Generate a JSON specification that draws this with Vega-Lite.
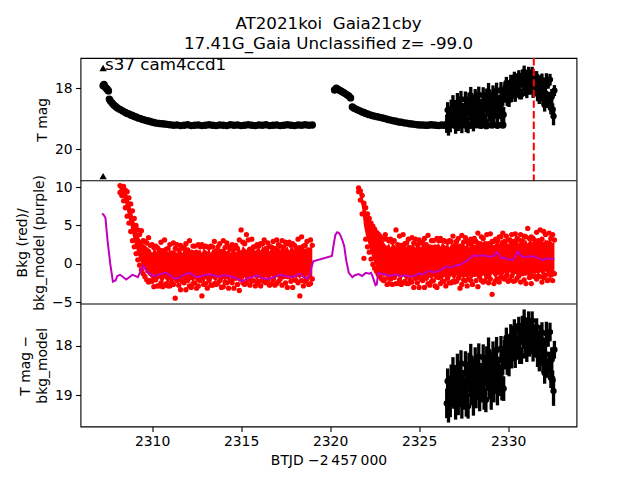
{
"$schema": "https://vega.github.io/schema/vega-lite/v6.json",
"width": 496, "height": 368.5,
"autosize": "none",
"padding": {"left": 80.5, "top": 58, "right": 63.5, "bottom": 53.5},
"background": "white",
"title": {"text": ["AT2021koi\u00a0 Gaia21cby", "17.41G_Gaia Unclassified z= -99.0"], "font": "DejaVu Sans", "fontSize": 16.7, "fontWeight": "normal", "color": "black", "anchor": "middle", "frame": "group", "baseline": "bottom", "offset": -13, "lineHeight": 20},
"config": {
 "view": {"stroke": "black", "strokeWidth": 1.1},
 "axis": {"labelFont": "DejaVu Sans", "labelFontSize": 13.9, "labelColor": "black", "tickColor": "black", "tickSize": 4.9, "tickWidth": 1.1, "labelPadding": 3.5, "titleFont": "DejaVu Sans", "titleFontSize": 13.9, "titleFontWeight": "normal", "titleColor": "black", "titlePadding": 5, "titleLineHeight": 16.7, "domain": false, "grid": false}
},
"datasets": {
 "top": [
  {"t":2307.25,"m":17.92,"e":0.05},{"t":2307.3,"m":17.88,"e":0.05},{"t":2307.35,"m":17.95,"e":0.05},{"t":2307.4,"m":17.99,"e":0.05},{"t":2307.45,"m":18.02,"e":0.05},{"t":2307.5,"m":18.05,"e":0.05},{"t":2307.55,"m":18.09,"e":0.05},{"t":2307.6,"m":18.36,"e":0.05},{"t":2307.65,"m":18.41,"e":0.05},{"t":2307.75,"m":18.49,"e":0.05},{"t":2307.85,"m":18.55,"e":0.05},{"t":2307.95,"m":18.6,"e":0.05},{"t":2308.05,"m":18.65,"e":0.05},{"t":2308.2,"m":18.7,"e":0.05},{"t":2308.35,"m":18.75,"e":0.05},{"t":2308.5,"m":18.8,"e":0.05},{"t":2308.6,"m":18.83,"e":0.05},{"t":2308.7,"m":18.85,"e":0.05},{"t":2308.8,"m":18.88,"e":0.05},{"t":2308.9,"m":18.9,"e":0.05},{"t":2309.0,"m":18.93,"e":0.05},{"t":2309.1,"m":18.95,"e":0.05},{"t":2309.22,"m":18.98,"e":0.05},{"t":2309.35,"m":19.0,"e":0.05},{"t":2309.47,"m":19.03,"e":0.05},{"t":2309.6,"m":19.05,"e":0.05},{"t":2309.72,"m":19.07,"e":0.05},{"t":2309.85,"m":19.09,"e":0.05},{"t":2309.97,"m":19.11,"e":0.04},{"t":2310.1,"m":19.13,"e":0.04},{"t":2310.25,"m":19.15,"e":0.04},{"t":2310.4,"m":19.16,"e":0.04},{"t":2310.55,"m":19.17,"e":0.04},{"t":2310.7,"m":19.18,"e":0.04},{"t":2310.85,"m":19.19,"e":0.04},{"t":2311.0,"m":19.2,"e":0.04},
  {"t":2311.2,"m":19.22,"e":0.04},{"t":2311.4,"m":19.21,"e":0.04},{"t":2311.6,"m":19.23,"e":0.04},{"t":2311.8,"m":19.22,"e":0.04},{"t":2312.0,"m":19.2,"e":0.04},{"t":2312.2,"m":19.23,"e":0.04},{"t":2312.4,"m":19.22,"e":0.04},{"t":2312.6,"m":19.21,"e":0.04},{"t":2312.8,"m":19.23,"e":0.04},{"t":2313.0,"m":19.22,"e":0.04},{"t":2313.2,"m":19.2,"e":0.04},{"t":2313.4,"m":19.22,"e":0.04},{"t":2313.6,"m":19.23,"e":0.04},{"t":2313.8,"m":19.21,"e":0.04},{"t":2314.0,"m":19.22,"e":0.04},{"t":2314.2,"m":19.23,"e":0.04},{"t":2314.4,"m":19.2,"e":0.04},{"t":2314.6,"m":19.22,"e":0.04},{"t":2314.8,"m":19.21,"e":0.04},{"t":2315.0,"m":19.23,"e":0.04},{"t":2315.2,"m":19.22,"e":0.04},{"t":2315.4,"m":19.2,"e":0.04},{"t":2315.6,"m":19.22,"e":0.04},{"t":2315.8,"m":19.23,"e":0.04},{"t":2316.0,"m":19.21,"e":0.04},{"t":2316.2,"m":19.22,"e":0.04},{"t":2316.4,"m":19.2,"e":0.04},{"t":2316.6,"m":19.23,"e":0.04},{"t":2316.8,"m":19.22,"e":0.04},{"t":2317.0,"m":19.21,"e":0.04},{"t":2317.2,"m":19.23,"e":0.04},{"t":2317.4,"m":19.22,"e":0.04},{"t":2317.6,"m":19.2,"e":0.04},{"t":2317.8,"m":19.22,"e":0.04},{"t":2318.0,"m":19.23,"e":0.04},{"t":2318.2,"m":19.21,"e":0.04},{"t":2318.4,"m":19.22,"e":0.04},{"t":2318.6,"m":19.2,"e":0.04},{"t":2318.8,"m":19.22,"e":0.04},{"t":2319.0,"m":19.21,"e":0.04},
  {"t":2320.25,"m":18.06,"e":0.05},{"t":2320.35,"m":18.0,"e":0.05},{"t":2320.45,"m":18.04,"e":0.05},{"t":2320.55,"m":18.08,"e":0.05},{"t":2320.65,"m":18.11,"e":0.05},{"t":2320.75,"m":18.14,"e":0.05},{"t":2320.85,"m":18.18,"e":0.05},{"t":2320.95,"m":18.22,"e":0.05},{"t":2321.05,"m":18.26,"e":0.05},{"t":2321.15,"m":18.32,"e":0.05},{"t":2321.25,"m":18.62,"e":0.05},{"t":2321.35,"m":18.66,"e":0.05},{"t":2321.5,"m":18.7,"e":0.05},{"t":2321.65,"m":18.74,"e":0.05},{"t":2321.8,"m":18.78,"e":0.05},{"t":2321.9,"m":18.8,"e":0.05},{"t":2322.0,"m":18.83,"e":0.05},{"t":2322.1,"m":18.85,"e":0.05},{"t":2322.2,"m":18.87,"e":0.05},{"t":2322.35,"m":18.9,"e":0.05},{"t":2322.5,"m":18.92,"e":0.05},{"t":2322.65,"m":18.94,"e":0.05},{"t":2322.8,"m":18.96,"e":0.05},{"t":2322.95,"m":18.98,"e":0.05},{"t":2323.1,"m":19.0,"e":0.04},{"t":2323.25,"m":19.03,"e":0.04},{"t":2323.4,"m":19.05,"e":0.04},{"t":2323.55,"m":19.07,"e":0.04},{"t":2323.7,"m":19.09,"e":0.04},{"t":2323.85,"m":19.11,"e":0.04},{"t":2324.0,"m":19.12,"e":0.04},{"t":2324.15,"m":19.14,"e":0.04},{"t":2324.3,"m":19.15,"e":0.04},{"t":2324.45,"m":19.17,"e":0.04},{"t":2324.6,"m":19.18,"e":0.04},{"t":2324.75,"m":19.19,"e":0.04},{"t":2324.9,"m":19.2,"e":0.04},{"t":2325.05,"m":19.21,"e":0.04},{"t":2325.2,"m":19.21,"e":0.04},{"t":2325.35,"m":19.22,"e":0.04},{"t":2325.5,"m":19.22,"e":0.04},{"t":2325.65,"m":19.2,"e":0.04},{"t":2325.8,"m":19.21,"e":0.04},{"t":2325.95,"m":19.22,"e":0.04},{"t":2326.1,"m":19.23,"e":0.04},{"t":2326.25,"m":19.21,"e":0.04},{"t":2326.4,"m":19.22,"e":0.04},{"t":2326.7,"m":19.21,"e":0.04},{"t":2327.0,"m":19.22,"e":0.04},{"t":2327.3,"m":19.23,"e":0.04},{"t":2327.6,"m":19.21,"e":0.04},{"t":2327.9,"m":19.22,"e":0.04},{"t":2328.2,"m":19.2,"e":0.04},{"t":2328.5,"m":19.22,"e":0.04},{"t":2328.8,"m":19.23,"e":0.04},{"t":2329.1,"m":19.21,"e":0.04},{"t":2329.4,"m":19.22,"e":0.04},{"t":2329.7,"m":19.21,"e":0.04}
 ],
 "noisy": [
  {"t":2326.55,"m":19.17,"e":0.30},{"t":2326.6,"m":18.72,"e":0.26},{"t":2326.65,"m":19.24,"e":0.32},{"t":2326.7,"m":18.88,"e":0.28},{"t":2326.75,"m":19.2,"e":0.25},{"t":2326.8,"m":18.69,"e":0.31},{"t":2326.85,"m":18.92,"e":0.27},{"t":2326.9,"m":18.52,"e":0.29},{"t":2326.95,"m":19.04,"e":0.24},
  {"t":2327.0,"m":18.69,"e":0.30},{"t":2327.05,"m":19.2,"e":0.30},{"t":2327.1,"m":18.81,"e":0.26},{"t":2327.15,"m":18.48,"e":0.32},{"t":2327.2,"m":19.13,"e":0.28},{"t":2327.25,"m":18.62,"e":0.25},{"t":2327.3,"m":18.93,"e":0.31},{"t":2327.35,"m":18.36,"e":0.27},{"t":2327.4,"m":19.19,"e":0.29},{"t":2327.45,"m":18.73,"e":0.24},{"t":2327.5,"m":19.0,"e":0.30},{"t":2327.55,"m":18.95,"e":0.30},{"t":2327.6,"m":18.37,"e":0.26},{"t":2327.65,"m":19.12,"e":0.32},{"t":2327.7,"m":18.66,"e":0.28},{"t":2327.75,"m":19.23,"e":0.25},{"t":2327.8,"m":18.45,"e":0.31},{"t":2327.85,"m":18.77,"e":0.27},{"t":2327.9,"m":18.25,"e":0.29},{"t":2327.95,"m":18.97,"e":0.24},
  {"t":2328.0,"m":18.56,"e":0.30},{"t":2328.05,"m":19.12,"e":0.30},{"t":2328.1,"m":18.68,"e":0.26},{"t":2328.15,"m":18.35,"e":0.32},{"t":2328.2,"m":18.99,"e":0.28},{"t":2328.25,"m":18.49,"e":0.25},{"t":2328.3,"m":18.79,"e":0.31},{"t":2328.35,"m":18.22,"e":0.27},{"t":2328.4,"m":19.04,"e":0.29},{"t":2328.45,"m":18.59,"e":0.24},{"t":2328.5,"m":18.85,"e":0.30},{"t":2328.55,"m":18.81,"e":0.30},{"t":2328.6,"m":18.23,"e":0.26},{"t":2328.65,"m":18.98,"e":0.32},{"t":2328.7,"m":18.52,"e":0.28},{"t":2328.75,"m":19.1,"e":0.25},{"t":2328.8,"m":18.32,"e":0.31},{"t":2328.85,"m":18.65,"e":0.27},{"t":2328.9,"m":18.12,"e":0.29},{"t":2328.95,"m":18.85,"e":0.24},
  {"t":2329.0,"m":18.44,"e":0.30},{"t":2329.05,"m":19.0,"e":0.30},{"t":2329.1,"m":18.55,"e":0.26},{"t":2329.15,"m":18.23,"e":0.32},{"t":2329.2,"m":18.87,"e":0.28},{"t":2329.25,"m":18.36,"e":0.25},{"t":2329.3,"m":18.66,"e":0.31},{"t":2329.35,"m":18.09,"e":0.27},{"t":2329.4,"m":18.92,"e":0.29},{"t":2329.45,"m":18.46,"e":0.24},{"t":2329.5,"m":18.72,"e":0.30},{"t":2329.55,"m":18.66,"e":0.30},{"t":2329.6,"m":18.06,"e":0.26},{"t":2329.65,"m":18.79,"e":0.32},{"t":2329.7,"m":18.31,"e":0.28},{"t":2329.75,"m":18.87,"e":0.25},
  {"t":2329.8,"m":18.11,"e":0.23},{"t":2329.85,"m":18.29,"e":0.19},{"t":2329.9,"m":17.84,"e":0.21},{"t":2329.95,"m":18.34,"e":0.25},{"t":2330.0,"m":18.0,"e":0.20},{"t":2330.05,"m":18.4,"e":0.22},{"t":2330.1,"m":18.06,"e":0.18},{"t":2330.15,"m":17.8,"e":0.24},{"t":2330.2,"m":18.26,"e":0.20},{"t":2330.25,"m":17.87,"e":0.17},{"t":2330.3,"m":18.08,"e":0.23},{"t":2330.35,"m":17.65,"e":0.19},{"t":2330.4,"m":18.24,"e":0.21},{"t":2330.45,"m":17.89,"e":0.25},{"t":2330.5,"m":18.07,"e":0.20},{"t":2330.55,"m":18.03,"e":0.22},{"t":2330.6,"m":17.59,"e":0.18},{"t":2330.65,"m":18.13,"e":0.24},{"t":2330.7,"m":17.78,"e":0.20},{"t":2330.75,"m":18.2,"e":0.17},{"t":2330.8,"m":17.62,"e":0.23},{"t":2330.85,"m":17.86,"e":0.19},{"t":2330.9,"m":17.47,"e":0.21},{"t":2330.95,"m":18.01,"e":0.25},
  {"t":2331.0,"m":17.7,"e":0.20},{"t":2331.05,"m":18.11,"e":0.22},{"t":2331.1,"m":17.79,"e":0.18},{"t":2331.15,"m":17.54,"e":0.24},{"t":2331.2,"m":18.02,"e":0.20},{"t":2331.25,"m":17.64,"e":0.17},{"t":2331.3,"m":17.88,"e":0.23},{"t":2331.35,"m":17.49,"e":0.19},{"t":2331.4,"m":18.11,"e":0.21},{"t":2331.45,"m":17.8,"e":0.25},{"t":2331.5,"m":18.01,"e":0.20},{"t":2331.55,"m":18.01,"e":0.22},{"t":2331.6,"m":17.62,"e":0.18},{"t":2331.65,"m":18.19,"e":0.24},{"t":2331.7,"m":17.89,"e":0.20},{"t":2331.75,"m":18.35,"e":0.17},{"t":2331.8,"m":17.81,"e":0.23},{"t":2331.85,"m":18.08,"e":0.19},{"t":2331.9,"m":17.73,"e":0.21},{"t":2331.95,"m":18.3,"e":0.25},
  {"t":2332.0,"m":18.03,"e":0.20},{"t":2332.05,"m":18.55,"e":0.22},{"t":2332.1,"m":18.17,"e":0.18},{"t":2332.15,"m":17.75,"e":0.24},{"t":2332.2,"m":18.45,"e":0.20},{"t":2332.25,"m":17.85,"e":0.17},{"t":2332.3,"m":18.35,"e":0.23},{"t":2332.35,"m":17.72,"e":0.19},{"t":2332.4,"m":18.65,"e":0.21},{"t":2332.45,"m":18.28,"e":0.25},{"t":2332.5,"m":18.7,"e":0.20},{"t":2332.55,"m":18.92,"e":0.30},{"t":2332.6,"m":18.08,"e":0.18}
 ],
 "tri": [{"t":2307.25,"m":17.34},{"t":2307.25,"m":20.89}],
 "model": [
  {"t":2307.2,"v":6.58},{"t":2307.3,"v":6.3},{"t":2307.38,"v":6.0},{"t":2307.5,"v":3.0},{"t":2307.65,"v":0.0},{"t":2307.8,"v":-2.33},{"t":2307.95,"v":-2.2},{"t":2308.05,"v":-1.6},{"t":2308.2,"v":-1.45},{"t":2308.35,"v":-1.7},{"t":2308.55,"v":-2.07},{"t":2308.7,"v":-1.8},{"t":2308.9,"v":-1.45},{"t":2309.05,"v":-1.6},{"t":2309.2,"v":-1.75},{"t":2309.35,"v":-1.0},{"t":2309.5,"v":-0.3},{"t":2309.6,"v":-0.6},{"t":2309.7,"v":-1.1},{"t":2309.85,"v":-1.3},{"t":2310.05,"v":-1.6},{"t":2310.3,"v":-1.5},{"t":2310.55,"v":-1.3},{"t":2310.8,"v":-1.2},{"t":2311.05,"v":-1.6},{"t":2311.35,"v":-2.0},{"t":2311.6,"v":-1.7},{"t":2311.85,"v":-1.4},{"t":2312.1,"v":-1.2},{"t":2312.3,"v":-1.5},{"t":2312.5,"v":-1.75},{"t":2312.8,"v":-1.6},{"t":2313.1,"v":-1.4},{"t":2313.4,"v":-1.45},{"t":2313.7,"v":-1.7},{"t":2314.0,"v":-1.5},{"t":2314.35,"v":-1.6},{"t":2314.7,"v":-1.9},{"t":2315.1,"v":-2.3},{"t":2315.35,"v":-1.9},{"t":2315.6,"v":-1.75},{"t":2315.9,"v":-1.5},{"t":2316.1,"v":-1.8},{"t":2316.4,"v":-2.0},{"t":2316.7,"v":-1.9},{"t":2317.0,"v":-1.6},{"t":2317.2,"v":-1.45},{"t":2317.5,"v":-1.6},{"t":2317.9,"v":-1.75},{"t":2318.1,"v":-1.5},{"t":2318.3,"v":-1.3},{"t":2318.5,"v":-1.75},{"t":2318.7,"v":-1.9},{"t":2318.85,"v":-1.6},{"t":2318.95,"v":-0.5},{"t":2319.05,"v":0.3},
  {"t":2320.1,"v":1.0},{"t":2320.2,"v":2.5},{"t":2320.3,"v":3.8},{"t":2320.4,"v":4.1},{"t":2320.5,"v":4.0},{"t":2320.6,"v":3.6},{"t":2320.7,"v":3.0},{"t":2320.8,"v":2.2},{"t":2320.9,"v":0.5},{"t":2321.05,"v":-1.2},{"t":2321.25,"v":-1.75},{"t":2321.4,"v":-1.5},{"t":2321.6,"v":-1.35},{"t":2321.8,"v":-1.6},{"t":2322.0,"v":-1.2},{"t":2322.2,"v":-1.3},{"t":2322.3,"v":-1.2},{"t":2322.4,"v":-1.75},{"t":2322.55,"v":-2.8},{"t":2322.62,"v":-2.7},{"t":2322.7,"v":-1.2},{"t":2322.9,"v":-1.3},{"t":2323.1,"v":-1.4},{"t":2323.4,"v":-1.6},{"t":2323.7,"v":-1.4},{"t":2324.0,"v":-1.6},{"t":2324.25,"v":-1.5},{"t":2324.5,"v":-1.7},{"t":2324.8,"v":-1.5},{"t":2325.0,"v":-1.3},{"t":2325.2,"v":-1.4},{"t":2325.4,"v":-1.1},{"t":2325.55,"v":-0.95},{"t":2325.8,"v":-1.1},{"t":2326.1,"v":-0.95},{"t":2326.35,"v":-0.6},{"t":2326.55,"v":-0.35},{"t":2326.8,"v":-0.5},{"t":2327.05,"v":-0.2},{"t":2327.3,"v":-0.15},{"t":2327.55,"v":0.2},{"t":2327.8,"v":0.6},{"t":2328.05,"v":1.1},{"t":2328.3,"v":1.0},{"t":2328.6,"v":1.1},{"t":2328.9,"v":0.9},{"t":2329.2,"v":1.0},{"t":2329.35,"v":1.5},{"t":2329.5,"v":1.2},{"t":2329.6,"v":0.7},{"t":2329.8,"v":0.8},{"t":2330.05,"v":0.5},{"t":2330.3,"v":0.5},{"t":2330.45,"v":1.2},{"t":2330.55,"v":1.6},{"t":2330.7,"v":1.1},{"t":2330.8,"v":0.9},{"t":2331.1,"v":0.9},{"t":2331.4,"v":1.0},{"t":2331.7,"v":0.7},{"t":2331.95,"v":0.5},{"t":2332.2,"v":0.7},{"t":2332.5,"v":0.6},{"t":2332.6,"v":0.7}
 ],
 "red": [
  {"s":1,"t":2308.2,"lo":9.4,"hi":10.1,"b1":10.2,"b2":9.3},{"s":1,"t":2308.3,"lo":9.1,"hi":10.2,"b1":9.9,"b2":8.9},{"s":1,"t":2308.4,"lo":8.6,"hi":10.0,"b1":10.1,"b2":8.2},{"s":1,"t":2308.5,"lo":7.8,"hi":9.8,"b1":9.6,"b2":7.3},{"s":1,"t":2308.6,"lo":6.8,"hi":9.2,"b1":9.4,"b2":6.2},{"s":1,"t":2308.7,"lo":5.8,"hi":8.3,"b1":8.6,"b2":5.3},{"s":1,"t":2308.8,"lo":4.8,"hi":7.4,"b1":7.8,"b2":4.2},{"s":1,"t":2308.9,"lo":3.8,"hi":6.5,"b1":6.9,"b2":3.0},{"s":1,"t":2309.0,"lo":2.8,"hi":5.6,"b1":5.9,"b2":2.2},{"s":1,"t":2309.1,"lo":2.0,"hi":4.7,"b1":5.0,"b2":1.3},
  {"s":1,"t":2309.2,"lo":1.2,"hi":3.9,"b1":4.4,"b2":0.5},{"s":1,"t":2309.3,"lo":0.5,"hi":3.3,"b1":3.8,"b2":-0.2},{"s":1,"t":2309.4,"lo":0.0,"hi":2.9,"b1":4.3,"b2":-0.8},{"s":1,"t":2309.5,"lo":-0.5,"hi":2.6,"b1":3.0,"b2":-1.3},{"s":1,"t":2309.6,"lo":-0.9,"hi":2.4,"b1":2.9,"b2":-1.7},{"s":1,"t":2309.7,"lo":-1.2,"hi":2.2,"b1":2.7,"b2":-2.1},{"s":1,"t":2309.8,"lo":-1.5,"hi":2.0,"b1":3.4,"b2":-2.4},{"s":1,"t":2309.9,"lo":-1.7,"hi":1.9,"b1":2.4,"b2":-2.2},{"s":1,"t":2310.0,"lo":-2.0,"hi":1.4,"b1":2.5,"b2":-2.3},{"s":1,"t":2310.1,"lo":-2.2,"hi":1.9,"b1":2.1,"b2":-3.0},
  {"s":1,"t":2310.2,"lo":-2.0,"hi":1.8,"b1":2.3,"b2":-2.1},{"s":1,"t":2310.3,"lo":-2.3,"hi":1.5,"b1":2.1,"b2":-2.9},{"s":1,"t":2310.4,"lo":-1.9,"hi":1.7,"b1":1.8,"b2":-2.9},{"s":1,"t":2310.5,"lo":-2.3,"hi":1.9,"b1":2.8,"b2":-2.5},{"s":1,"t":2310.6,"lo":-2.5,"hi":1.4,"b1":1.7,"b2":-3.0},{"s":1,"t":2310.7,"lo":-1.9,"hi":2.0,"b1":3.1,"b2":-2.8},{"s":1,"t":2310.8,"lo":-2.2,"hi":1.7,"b1":1.9,"b2":-2.6},{"s":1,"t":2310.9,"lo":-2.6,"hi":1.5,"b1":2.0,"b2":-2.9},{"s":1,"t":2311.0,"lo":-2.1,"hi":1.9,"b1":2.5,"b2":-2.9},{"s":1,"t":2311.1,"lo":-2.3,"hi":1.3,"b1":1.4,"b2":-2.4},
  {"s":1,"t":2311.2,"lo":-2.1,"hi":1.8,"b1":2.7,"b2":-2.7},{"s":1,"t":2311.3,"lo":-2.4,"hi":1.7,"b1":2.0,"b2":-4.5},{"s":1,"t":2311.4,"lo":-2.0,"hi":1.4,"b1":2.5,"b2":-2.2},{"s":1,"t":2311.5,"lo":-2.3,"hi":1.6,"b1":1.8,"b2":-2.8},{"s":1,"t":2311.6,"lo":-2.5,"hi":1.9,"b1":2.4,"b2":-3.4},{"s":1,"t":2311.7,"lo":-1.9,"hi":1.4,"b1":2.0,"b2":-2.3},{"s":1,"t":2311.8,"lo":-2.2,"hi":2.0,"b1":2.1,"b2":-2.5},{"s":1,"t":2311.9,"lo":-2.6,"hi":1.7,"b1":2.6,"b2":-3.4},{"s":1,"t":2312.0,"lo":-2.1,"hi":1.5,"b1":1.8,"b2":-2.2},{"s":1,"t":2312.1,"lo":-2.3,"hi":1.9,"b1":3.0,"b2":-2.9},
  {"s":1,"t":2312.2,"lo":-2.1,"hi":1.3,"b1":1.5,"b2":-3.1},{"s":1,"t":2312.3,"lo":-2.4,"hi":1.8,"b1":2.3,"b2":-2.6},{"s":1,"t":2312.4,"lo":-2.0,"hi":1.7,"b1":2.3,"b2":-2.5},{"s":1,"t":2312.5,"lo":-2.3,"hi":1.4,"b1":1.5,"b2":-3.2},{"s":1,"t":2312.6,"lo":-2.5,"hi":1.6,"b1":2.5,"b2":-2.9},{"s":1,"t":2312.7,"lo":-1.9,"hi":1.9,"b1":2.2,"b2":-2.2},{"s":1,"t":2312.8,"lo":-2.2,"hi":1.4,"b1":2.5,"b2":-4.2},{"s":1,"t":2312.9,"lo":-2.6,"hi":2.0,"b1":2.2,"b2":-2.7},{"s":1,"t":2313.0,"lo":-2.0,"hi":1.8,"b1":2.3,"b2":-2.6},{"s":1,"t":2313.1,"lo":-2.2,"hi":1.6,"b1":2.2,"b2":-3.2},
  {"s":1,"t":2313.2,"lo":-2.0,"hi":2.0,"b1":2.1,"b2":-2.2},{"s":1,"t":2313.3,"lo":-2.3,"hi":1.4,"b1":2.3,"b2":-2.8},{"s":1,"t":2313.4,"lo":-1.9,"hi":1.9,"b1":2.2,"b2":-2.8},{"s":1,"t":2313.5,"lo":-2.2,"hi":1.8,"b1":2.9,"b2":-2.6},{"s":1,"t":2313.6,"lo":-2.4,"hi":1.5,"b1":1.7,"b2":-2.7},{"s":1,"t":2313.7,"lo":-1.8,"hi":1.7,"b1":2.2,"b2":-2.6},{"s":1,"t":2313.8,"lo":-2.1,"hi":2.0,"b1":2.6,"b2":-2.2},{"s":1,"t":2313.9,"lo":-2.5,"hi":1.5,"b1":1.6,"b2":-3.1},{"s":1,"t":2314.0,"lo":-2.0,"hi":2.1,"b1":3.0,"b2":-3.0},{"s":1,"t":2314.1,"lo":-2.2,"hi":1.8,"b1":2.1,"b2":-2.4},
  {"s":1,"t":2314.2,"lo":-2.0,"hi":1.6,"b1":2.7,"b2":-2.5},{"s":1,"t":2314.3,"lo":-2.3,"hi":2.0,"b1":2.2,"b2":-3.2},{"s":1,"t":2314.4,"lo":-1.9,"hi":1.4,"b1":1.9,"b2":-2.3},{"s":1,"t":2314.5,"lo":-2.2,"hi":1.9,"b1":2.5,"b2":-2.5},{"s":1,"t":2314.6,"lo":-2.4,"hi":1.8,"b1":1.9,"b2":-3.2},{"s":1,"t":2314.7,"lo":-1.8,"hi":1.5,"b1":2.4,"b2":-1.9},{"s":1,"t":2314.8,"lo":-2.1,"hi":1.7,"b1":2.0,"b2":-2.7},{"s":1,"t":2314.9,"lo":-2.5,"hi":2.0,"b1":3.1,"b2":-3.5},{"s":1,"t":2315.0,"lo":-1.8,"hi":1.7,"b1":4.4,"b2":-2.0},{"s":1,"t":2315.1,"lo":-2.0,"hi":2.3,"b1":2.8,"b2":-2.5},
  {"s":1,"t":2315.2,"lo":-1.8,"hi":2.0,"b1":2.6,"b2":-2.7},{"s":1,"t":2315.3,"lo":-2.1,"hi":1.8,"b1":3.8,"b2":-2.5},{"s":1,"t":2315.4,"lo":-1.7,"hi":2.2,"b1":3.1,"b2":-2.0},{"s":1,"t":2315.5,"lo":-2.0,"hi":1.6,"b1":1.9,"b2":-2.8},{"s":1,"t":2315.6,"lo":-2.2,"hi":2.1,"b1":3.2,"b2":-2.3},{"s":1,"t":2315.7,"lo":-1.6,"hi":2.0,"b1":2.2,"b2":-2.2},{"s":1,"t":2315.8,"lo":-1.9,"hi":1.7,"b1":2.2,"b2":-2.9},{"s":1,"t":2315.9,"lo":-2.3,"hi":1.9,"b1":2.5,"b2":-2.5},{"s":1,"t":2316.0,"lo":-1.8,"hi":2.2,"b1":2.3,"b2":-2.3},{"s":1,"t":2316.1,"lo":-2.0,"hi":1.7,"b1":2.6,"b2":-2.9},
  {"s":1,"t":2316.2,"lo":-1.8,"hi":2.3,"b1":2.6,"b2":-2.2},{"s":1,"t":2316.3,"lo":-2.1,"hi":2.0,"b1":3.1,"b2":-2.4},{"s":1,"t":2316.4,"lo":-1.7,"hi":1.8,"b1":2.0,"b2":-2.5},{"s":1,"t":2316.5,"lo":-2.0,"hi":2.2,"b1":2.7,"b2":-2.1},{"s":1,"t":2316.6,"lo":-2.2,"hi":1.6,"b1":2.2,"b2":-2.8},{"s":1,"t":2316.7,"lo":-1.6,"hi":2.1,"b1":2.2,"b2":-2.6},{"s":1,"t":2316.8,"lo":-1.9,"hi":2.0,"b1":2.9,"b2":-2.1},{"s":1,"t":2316.9,"lo":-2.3,"hi":1.7,"b1":2.0,"b2":-2.8},{"s":1,"t":2317.0,"lo":-1.7,"hi":2.0,"b1":3.1,"b2":-2.6},{"s":1,"t":2317.1,"lo":-1.9,"hi":2.3,"b1":2.5,"b2":-2.3},
  {"s":1,"t":2317.2,"lo":-1.7,"hi":1.8,"b1":2.3,"b2":-2.0},{"s":1,"t":2317.3,"lo":-2.0,"hi":2.4,"b1":3.0,"b2":-2.8},{"s":1,"t":2317.4,"lo":-1.6,"hi":2.1,"b1":2.2,"b2":-1.7},{"s":1,"t":2317.5,"lo":-1.9,"hi":1.9,"b1":2.8,"b2":-2.5},{"s":1,"t":2317.6,"lo":-2.1,"hi":2.3,"b1":2.6,"b2":-3.1},{"s":1,"t":2317.7,"lo":-1.5,"hi":1.7,"b1":2.8,"b2":-1.7},{"s":1,"t":2317.8,"lo":-1.8,"hi":2.2,"b1":2.4,"b2":-2.3},{"s":1,"t":2317.9,"lo":-2.2,"hi":2.1,"b1":2.6,"b2":-3.1},{"s":1,"t":2318.0,"lo":-1.7,"hi":1.8,"b1":2.4,"b2":-2.1},{"s":1,"t":2318.1,"lo":-1.9,"hi":2.0,"b1":2.1,"b2":-2.2},
  {"s":1,"t":2318.2,"lo":-1.7,"hi":2.3,"b1":3.2,"b2":-2.5},{"s":1,"t":2318.3,"lo":-2.0,"hi":1.8,"b1":2.1,"b2":-4.2},{"s":1,"t":2318.4,"lo":-1.6,"hi":2.4,"b1":3.5,"b2":-2.2},{"s":1,"t":2318.5,"lo":-1.9,"hi":2.1,"b1":2.3,"b2":-2.9},{"s":1,"t":2318.6,"lo":-2.1,"hi":1.9,"b1":2.4,"b2":-2.3},{"s":1,"t":2318.7,"lo":-1.5,"hi":2.3,"b1":2.9,"b2":-2.0},{"s":1,"t":2318.8,"lo":-1.8,"hi":1.7,"b1":1.8,"b2":-2.7},{"s":1,"t":2318.9,"lo":-2.2,"hi":2.2,"b1":3.1,"b2":-2.6},{"s":1,"t":2319.0,"lo":-1.7,"hi":2.1,"b1":2.4,"b2":-2.0},
  {"s":2,"t":2321.6,"lo":9.5,"hi":10.0,"b1":9.9,"b2":9.4},{"s":2,"t":2321.7,"lo":8.6,"hi":9.6,"b1":9.5,"b2":8.3},{"s":2,"t":2321.8,"lo":7.2,"hi":9.2,"b1":8.9,"b2":6.5},{"s":2,"t":2321.9,"lo":5.0,"hi":7.8,"b1":7.9,"b2":0.7},{"s":2,"t":2322.0,"lo":3.8,"hi":7.0,"b1":7.3,"b2":3.2},{"s":2,"t":2322.1,"lo":3.0,"hi":6.2,"b1":6.5,"b2":2.2},{"s":2,"t":2322.2,"lo":2.2,"hi":5.6,"b1":5.9,"b2":1.5},{"s":2,"t":2322.3,"lo":1.4,"hi":5.0,"b1":5.3,"b2":0.6},{"s":2,"t":2322.4,"lo":0.6,"hi":4.5,"b1":4.9,"b2":-0.1},{"s":2,"t":2322.5,"lo":0.0,"hi":4.1,"b1":4.5,"b2":-0.6},
  {"s":2,"t":2322.6,"lo":-0.5,"hi":3.8,"b1":4.1,"b2":-1.0},{"s":2,"t":2322.7,"lo":-0.9,"hi":3.5,"b1":3.9,"b2":-1.4},{"s":2,"t":2322.8,"lo":-1.2,"hi":3.2,"b1":3.6,"b2":-1.7},{"s":2,"t":2322.9,"lo":-1.5,"hi":3.0,"b1":3.3,"b2":-2.0},{"s":2,"t":2323.0,"lo":-1.7,"hi":2.9,"b1":3.2,"b2":-2.2},{"s":2,"t":2323.1,"lo":-1.5,"hi":2.5,"b1":3.8,"b2":-2.0},{"s":2,"t":2323.2,"lo":-1.8,"hi":2.3,"b1":3.2,"b2":-2.7},{"s":2,"t":2323.3,"lo":-2.2,"hi":2.7,"b1":3.0,"b2":-2.6},{"s":2,"t":2323.4,"lo":-1.7,"hi":2.1,"b1":3.2,"b2":-2.0},{"s":2,"t":2323.5,"lo":-1.9,"hi":2.6,"b1":2.8,"b2":-2.7},
  {"s":2,"t":2323.6,"lo":-1.7,"hi":2.5,"b1":3.0,"b2":-1.8},{"s":2,"t":2323.7,"lo":-2.0,"hi":2.2,"b1":4.4,"b2":-2.6},{"s":2,"t":2323.8,"lo":-1.6,"hi":2.4,"b1":2.5,"b2":-2.6},{"s":2,"t":2323.9,"lo":-1.9,"hi":2.7,"b1":3.6,"b2":-2.1},{"s":2,"t":2324.0,"lo":-2.2,"hi":2.1,"b1":2.4,"b2":-2.7},{"s":2,"t":2324.1,"lo":-1.6,"hi":2.7,"b1":3.8,"b2":-2.5},{"s":2,"t":2324.2,"lo":-1.9,"hi":2.4,"b1":2.6,"b2":-2.3},{"s":2,"t":2324.3,"lo":-2.3,"hi":2.2,"b1":2.7,"b2":-2.6},{"s":2,"t":2324.4,"lo":-1.8,"hi":2.6,"b1":3.2,"b2":-2.6},{"s":2,"t":2324.5,"lo":-2.0,"hi":2.0,"b1":2.1,"b2":-2.1},
  {"s":2,"t":2324.6,"lo":-1.8,"hi":2.5,"b1":3.4,"b2":-2.4},{"s":2,"t":2324.7,"lo":-2.1,"hi":2.4,"b1":2.7,"b2":-3.1},{"s":2,"t":2324.8,"lo":-1.7,"hi":2.1,"b1":3.2,"b2":-1.9},{"s":2,"t":2324.9,"lo":-2.0,"hi":2.3,"b1":2.5,"b2":-2.5},{"s":2,"t":2325.0,"lo":-2.2,"hi":2.6,"b1":3.1,"b2":-3.1},{"s":2,"t":2325.1,"lo":-1.6,"hi":2.1,"b1":2.7,"b2":-2.0},{"s":2,"t":2325.2,"lo":-1.9,"hi":2.7,"b1":2.8,"b2":-2.2},{"s":2,"t":2325.3,"lo":-2.3,"hi":2.4,"b1":3.3,"b2":-3.1},{"s":2,"t":2325.4,"lo":-1.8,"hi":2.2,"b1":2.5,"b2":-1.9},{"s":2,"t":2325.5,"lo":-2.0,"hi":2.6,"b1":3.7,"b2":-2.6},
  {"s":2,"t":2325.6,"lo":-1.8,"hi":2.0,"b1":2.2,"b2":-2.8},{"s":2,"t":2325.7,"lo":-2.1,"hi":2.5,"b1":3.0,"b2":-2.3},{"s":2,"t":2325.8,"lo":-1.7,"hi":2.4,"b1":3.0,"b2":-2.2},{"s":2,"t":2325.9,"lo":-2.0,"hi":2.1,"b1":2.2,"b2":-2.9},{"s":2,"t":2326.0,"lo":-2.1,"hi":2.4,"b1":3.3,"b2":-3.1},{"s":2,"t":2326.1,"lo":-1.5,"hi":2.7,"b1":3.0,"b2":-1.8},{"s":2,"t":2326.2,"lo":-1.8,"hi":2.2,"b1":3.3,"b2":-2.6},{"s":2,"t":2326.3,"lo":-2.2,"hi":2.8,"b1":3.0,"b2":-2.3},{"s":2,"t":2326.4,"lo":-1.7,"hi":2.5,"b1":3.0,"b2":-2.3},{"s":2,"t":2326.5,"lo":-1.9,"hi":2.3,"b1":2.9,"b2":-2.9},
  {"s":2,"t":2326.6,"lo":-1.7,"hi":2.7,"b1":2.8,"b2":-1.9},{"s":2,"t":2326.7,"lo":-2.0,"hi":2.1,"b1":3.0,"b2":-2.5},{"s":2,"t":2326.8,"lo":-1.6,"hi":2.6,"b1":2.9,"b2":-2.5},{"s":2,"t":2326.9,"lo":-1.9,"hi":2.5,"b1":3.6,"b2":-2.3},{"s":2,"t":2327.0,"lo":-2.1,"hi":2.2,"b1":2.4,"b2":-2.4},{"s":2,"t":2327.1,"lo":-1.5,"hi":2.4,"b1":2.9,"b2":-2.3},{"s":2,"t":2327.2,"lo":-1.8,"hi":2.7,"b1":3.3,"b2":-1.9},{"s":2,"t":2327.3,"lo":-2.2,"hi":2.2,"b1":2.3,"b2":-3.2},{"s":2,"t":2327.4,"lo":-1.7,"hi":2.8,"b1":3.7,"b2":-2.7},{"s":2,"t":2327.5,"lo":-1.9,"hi":2.5,"b1":2.8,"b2":-2.1},
  {"s":2,"t":2327.6,"lo":-1.7,"hi":2.3,"b1":3.4,"b2":-2.2},{"s":2,"t":2327.7,"lo":-2.0,"hi":2.7,"b1":2.9,"b2":-2.9},{"s":2,"t":2327.8,"lo":-1.6,"hi":2.1,"b1":2.6,"b2":-2.0},{"s":2,"t":2327.9,"lo":-1.9,"hi":2.6,"b1":3.2,"b2":-2.2},{"s":2,"t":2328.0,"lo":-1.9,"hi":2.7,"b1":2.8,"b2":-2.7},{"s":2,"t":2328.1,"lo":-1.3,"hi":2.4,"b1":3.3,"b2":-1.4},{"s":2,"t":2328.2,"lo":-1.6,"hi":2.6,"b1":2.9,"b2":-2.2},{"s":2,"t":2328.3,"lo":-2.0,"hi":2.9,"b1":4.0,"b2":-3.0},{"s":2,"t":2328.4,"lo":-1.5,"hi":2.4,"b1":2.6,"b2":-1.7},{"s":2,"t":2328.5,"lo":-1.7,"hi":3.0,"b1":3.5,"b2":-2.2},
  {"s":2,"t":2328.6,"lo":-1.5,"hi":2.7,"b1":3.3,"b2":-2.4},{"s":2,"t":2328.7,"lo":-1.8,"hi":2.5,"b1":2.6,"b2":-2.2},{"s":2,"t":2328.8,"lo":-1.4,"hi":2.9,"b1":3.8,"b2":-1.7},{"s":2,"t":2328.9,"lo":-1.7,"hi":2.3,"b1":2.6,"b2":-2.5},{"s":2,"t":2329.0,"lo":-1.9,"hi":2.8,"b1":3.9,"b2":-2.0},{"s":2,"t":2329.1,"lo":-1.3,"hi":2.7,"b1":2.9,"b2":-4.0},{"s":2,"t":2329.2,"lo":-1.6,"hi":2.4,"b1":2.9,"b2":-2.6},{"s":2,"t":2329.3,"lo":-2.0,"hi":2.6,"b1":3.2,"b2":-2.2},{"s":2,"t":2329.4,"lo":-1.5,"hi":2.9,"b1":3.0,"b2":-2.0},{"s":2,"t":2329.5,"lo":-1.5,"hi":2.6,"b1":3.5,"b2":-2.4},
  {"s":2,"t":2329.6,"lo":-1.3,"hi":3.2,"b1":3.5,"b2":-1.7},{"s":2,"t":2329.7,"lo":-1.6,"hi":2.9,"b1":4.0,"b2":-1.9},{"s":2,"t":2329.8,"lo":-1.2,"hi":2.7,"b1":2.9,"b2":-2.0},{"s":2,"t":2329.9,"lo":-1.5,"hi":3.1,"b1":3.6,"b2":-1.6},{"s":2,"t":2330.0,"lo":-1.7,"hi":2.5,"b1":3.1,"b2":-2.3},{"s":2,"t":2330.1,"lo":-1.1,"hi":3.0,"b1":3.1,"b2":-2.1},{"s":2,"t":2330.2,"lo":-1.4,"hi":2.9,"b1":3.8,"b2":-1.6},{"s":2,"t":2330.3,"lo":-1.8,"hi":2.6,"b1":2.9,"b2":-2.3},{"s":2,"t":2330.4,"lo":-1.3,"hi":2.8,"b1":3.9,"b2":-2.2},{"s":2,"t":2330.5,"lo":-1.5,"hi":3.1,"b1":3.3,"b2":-1.9},
  {"s":2,"t":2330.6,"lo":-1.3,"hi":2.6,"b1":3.1,"b2":-1.6},{"s":2,"t":2330.7,"lo":-1.6,"hi":3.2,"b1":3.8,"b2":-2.4},{"s":2,"t":2330.8,"lo":-1.2,"hi":2.9,"b1":3.0,"b2":-1.3},{"s":2,"t":2330.9,"lo":-1.5,"hi":2.7,"b1":3.6,"b2":-2.1},{"s":2,"t":2331.0,"lo":-1.6,"hi":3.2,"b1":3.5,"b2":-2.6},{"s":2,"t":2331.1,"lo":-1.0,"hi":2.6,"b1":4.6,"b2":-1.2},{"s":2,"t":2331.2,"lo":-1.3,"hi":3.1,"b1":3.3,"b2":-1.8},{"s":2,"t":2331.3,"lo":-1.7,"hi":3.0,"b1":3.5,"b2":-2.6},{"s":2,"t":2331.4,"lo":-1.2,"hi":2.7,"b1":3.3,"b2":-1.6},{"s":2,"t":2331.5,"lo":-1.4,"hi":2.9,"b1":3.0,"b2":-1.7},
  {"s":2,"t":2331.6,"lo":-1.2,"hi":3.2,"b1":4.1,"b2":-2.0},{"s":2,"t":2331.7,"lo":-1.5,"hi":2.7,"b1":3.0,"b2":-1.6},{"s":2,"t":2331.8,"lo":-1.1,"hi":3.3,"b1":4.4,"b2":-1.7},{"s":2,"t":2331.9,"lo":-1.4,"hi":3.0,"b1":3.2,"b2":-2.4},{"s":2,"t":2332.0,"lo":-1.6,"hi":2.8,"b1":4.2,"b2":-1.8},{"s":2,"t":2332.1,"lo":-1.0,"hi":3.2,"b1":3.8,"b2":-1.5},{"s":2,"t":2332.2,"lo":-1.3,"hi":2.6,"b1":2.7,"b2":-2.2},{"s":2,"t":2332.3,"lo":-1.7,"hi":3.1,"b1":4.0,"b2":-2.1},{"s":2,"t":2332.4,"lo":-1.2,"hi":3.0,"b1":3.3,"b2":-1.5},{"s":2,"t":2332.5,"lo":-1.4,"hi":2.7,"b1":3.8,"b2":-2.2},{"s":2,"t":2332.6,"lo":-1.2,"hi":2.9,"b1":3.1,"b2":-1.3}
 ]
},
"layer": [
 {
  "layer": [
   {"data": {"name": "top"}, "mark": {"type": "errorbar", "color": "black", "thickness": 2},
    "encoding": {
     "x": {"field": "t", "type": "quantitative", "scale": {"domain": [2305.98, 2333.84], "nice": false, "zero": false}, "axis": {"values": [2310, 2315, 2320, 2325, 2330], "format": "d", "title": "BTJD \u22122\u2009457\u2009000"}},
     "y": {"field": "m", "type": "quantitative", "scale": {"domain": [17.01, 21.04], "range": [0, 122.7], "nice": false, "zero": false}, "axis": {"orient": "left", "values": [18, 20], "title": "T mag"}},
     "yError": {"field": "e"}}},
   {"data": {"name": "top"}, "mark": {"type": "circle", "color": "black", "size": 55, "opacity": 1},
    "encoding": {
     "x": {"field": "t", "type": "quantitative", "scale": {"domain": [2305.98, 2333.84], "nice": false, "zero": false}, "axis": {"values": [2310, 2315, 2320, 2325, 2330], "format": "d", "title": "BTJD \u22122\u2009457\u2009000"}},
     "y": {"field": "m", "type": "quantitative", "scale": {"domain": [17.01, 21.04], "range": [0, 122.7], "nice": false, "zero": false}, "axis": {"orient": "left", "values": [18, 20], "title": "T mag"}}}},
   {"data": {"name": "noisy"}, "mark": {"type": "errorbar", "color": "black", "thickness": 3.3},
    "encoding": {
     "x": {"field": "t", "type": "quantitative", "scale": {"domain": [2305.98, 2333.84], "nice": false, "zero": false}, "axis": {"values": [2310, 2315, 2320, 2325, 2330], "format": "d", "title": "BTJD \u22122\u2009457\u2009000"}},
     "y": {"field": "m", "type": "quantitative", "scale": {"domain": [17.01, 21.04], "range": [0, 122.7], "nice": false, "zero": false}, "axis": {"orient": "left", "values": [18, 20], "title": "T mag"}},
     "yError": {"field": "e"}}},
   {"data": {"name": "noisy"}, "mark": {"type": "circle", "color": "black", "size": 40, "opacity": 1},
    "encoding": {
     "x": {"field": "t", "type": "quantitative", "scale": {"domain": [2305.98, 2333.84], "nice": false, "zero": false}, "axis": {"values": [2310, 2315, 2320, 2325, 2330], "format": "d", "title": "BTJD \u22122\u2009457\u2009000"}},
     "y": {"field": "m", "type": "quantitative", "scale": {"domain": [17.01, 21.04], "range": [0, 122.7], "nice": false, "zero": false}, "axis": {"orient": "left", "values": [18, 20], "title": "T mag"}}}},
   {"data": {"name": "tri"}, "mark": {"type": "point", "shape": "triangle-up", "filled": true, "color": "black", "size": 55, "opacity": 1},
    "encoding": {
     "x": {"field": "t", "type": "quantitative", "scale": {"domain": [2305.98, 2333.84], "nice": false, "zero": false}, "axis": {"values": [2310, 2315, 2320, 2325, 2330], "format": "d", "title": "BTJD \u22122\u2009457\u2009000"}},
     "y": {"field": "m", "type": "quantitative", "scale": {"domain": [17.01, 21.04], "range": [0, 122.7], "nice": false, "zero": false}, "axis": {"orient": "left", "values": [18, 20], "title": "T mag"}}}},
   {"data": {"values": [{}]}, "mark": {"type": "text", "text": "s37 cam4ccd1", "align": "left", "baseline": "alphabetic", "font": "DejaVu Sans", "fontSize": 16.7, "color": "black", "dx": 2},
    "encoding": {
     "x": {"datum": 2307.25, "type": "quantitative", "scale": {"domain": [2305.98, 2333.84], "nice": false, "zero": false}, "axis": {"values": [2310, 2315, 2320, 2325, 2330], "format": "d", "title": "BTJD \u22122\u2009457\u2009000"}},
     "y": {"datum": 17.42, "type": "quantitative", "scale": {"domain": [17.01, 21.04], "range": [0, 122.7], "nice": false, "zero": false}, "axis": {"orient": "left", "values": [18, 20], "title": "T mag"}}}},
   {"data": {"values": [{}]}, "mark": {"type": "rule", "color": "#ff0000", "strokeWidth": 2, "strokeDash": [7.4, 3.2]},
    "encoding": {
     "x": {"datum": 2331.44, "type": "quantitative", "scale": {"domain": [2305.98, 2333.84], "nice": false, "zero": false}, "axis": {"values": [2310, 2315, 2320, 2325, 2330], "format": "d", "title": "BTJD \u22122\u2009457\u2009000"}},
     "y": {"datum": 17.01, "type": "quantitative", "scale": {"domain": [17.01, 21.04], "range": [0, 122.7], "nice": false, "zero": false}, "axis": {"orient": "left", "values": [18, 20], "title": "T mag"}},
     "y2": {"datum": 21.04}}}
  ]
 },
 {
  "layer": [
   {"data": {"name": "red"}, "mark": {"type": "area", "color": "#ff0000", "opacity": 1},
    "encoding": {
     "x": {"field": "t", "type": "quantitative", "scale": {"domain": [2305.98, 2333.84], "nice": false, "zero": false}, "axis": {"values": [2310, 2315, 2320, 2325, 2330], "format": "d", "title": "BTJD \u22122\u2009457\u2009000"}},
     "y": {"field": "lo", "type": "quantitative", "scale": {"domain": [-5.26, 10.83], "range": [246, 122.7], "nice": false, "zero": false}, "axis": {"orient": "left", "values": [-5, 0, 5, 10], "title": ["Bkg (red)/", "bkg_model (purple)"]}},
     "y2": {"field": "hi"},
     "detail": {"field": "s", "type": "nominal"}}},
   {"data": {"name": "red"}, "mark": {"type": "circle", "color": "#ff0000", "size": 28, "opacity": 1},
    "encoding": {
     "x": {"field": "t", "type": "quantitative", "scale": {"domain": [2305.98, 2333.84], "nice": false, "zero": false}, "axis": {"values": [2310, 2315, 2320, 2325, 2330], "format": "d", "title": "BTJD \u22122\u2009457\u2009000"}},
     "y": {"field": "b1", "type": "quantitative", "scale": {"domain": [-5.26, 10.83], "range": [246, 122.7], "nice": false, "zero": false}, "axis": {"orient": "left", "values": [-5, 0, 5, 10], "title": ["Bkg (red)/", "bkg_model (purple)"]}}}},
   {"data": {"name": "red"}, "mark": {"type": "circle", "color": "#ff0000", "size": 28, "opacity": 1},
    "encoding": {
     "x": {"field": "t", "type": "quantitative", "scale": {"domain": [2305.98, 2333.84], "nice": false, "zero": false}, "axis": {"values": [2310, 2315, 2320, 2325, 2330], "format": "d", "title": "BTJD \u22122\u2009457\u2009000"}},
     "y": {"field": "b2", "type": "quantitative", "scale": {"domain": [-5.26, 10.83], "range": [246, 122.7], "nice": false, "zero": false}, "axis": {"orient": "left", "values": [-5, 0, 5, 10], "title": ["Bkg (red)/", "bkg_model (purple)"]}}}},
   {"data": {"name": "model"}, "mark": {"type": "line", "color": "#bf00bf", "strokeWidth": 2},
    "encoding": {
     "x": {"field": "t", "type": "quantitative", "scale": {"domain": [2305.98, 2333.84], "nice": false, "zero": false}, "axis": {"values": [2310, 2315, 2320, 2325, 2330], "format": "d", "title": "BTJD \u22122\u2009457\u2009000"}},
     "y": {"field": "v", "type": "quantitative", "scale": {"domain": [-5.26, 10.83], "range": [246, 122.7], "nice": false, "zero": false}, "axis": {"orient": "left", "values": [-5, 0, 5, 10], "title": ["Bkg (red)/", "bkg_model (purple)"]}}}},
   {"data": {"values": [{}]}, "mark": {"type": "rule", "color": "black", "strokeWidth": 1.1},
    "encoding": {
     "y": {"datum": 10.83, "type": "quantitative", "scale": {"domain": [-5.26, 10.83], "range": [246, 122.7], "nice": false, "zero": false}, "axis": {"orient": "left", "values": [-5, 0, 5, 10], "title": ["Bkg (red)/", "bkg_model (purple)"]}}}},
   {"data": {"values": [{}]}, "mark": {"type": "rule", "color": "black", "strokeWidth": 1.1},
    "encoding": {
     "y": {"datum": -5.26, "type": "quantitative", "scale": {"domain": [-5.26, 10.83], "range": [246, 122.7], "nice": false, "zero": false}, "axis": {"orient": "left", "values": [-5, 0, 5, 10], "title": ["Bkg (red)/", "bkg_model (purple)"]}}}}
  ]
 },
 {
  "layer": [
   {"data": {"name": "noisy"}, "mark": {"type": "errorbar", "color": "black", "thickness": 3.3},
    "encoding": {
     "x": {"field": "t", "type": "quantitative", "scale": {"domain": [2305.98, 2333.84], "nice": false, "zero": false}, "axis": {"values": [2310, 2315, 2320, 2325, 2330], "format": "d", "title": "BTJD \u22122\u2009457\u2009000"}},
     "y": {"field": "m", "type": "quantitative", "scale": {"domain": [17.15, 19.64], "range": [246, 368.5], "nice": false, "zero": false}, "axis": {"orient": "left", "values": [18, 19], "title": ["T mag \u2212", "bkg_model"]}},
     "yError": {"field": "e"}}},
   {"data": {"name": "noisy"}, "mark": {"type": "circle", "color": "black", "size": 40, "opacity": 1},
    "encoding": {
     "x": {"field": "t", "type": "quantitative", "scale": {"domain": [2305.98, 2333.84], "nice": false, "zero": false}, "axis": {"values": [2310, 2315, 2320, 2325, 2330], "format": "d", "title": "BTJD \u22122\u2009457\u2009000"}},
     "y": {"field": "m", "type": "quantitative", "scale": {"domain": [17.15, 19.64], "range": [246, 368.5], "nice": false, "zero": false}, "axis": {"orient": "left", "values": [18, 19], "title": ["T mag \u2212", "bkg_model"]}}}}
  ]
 }
],
"resolve": {"scale": {"y": "independent"}, "axis": {"y": "independent"}}
}
